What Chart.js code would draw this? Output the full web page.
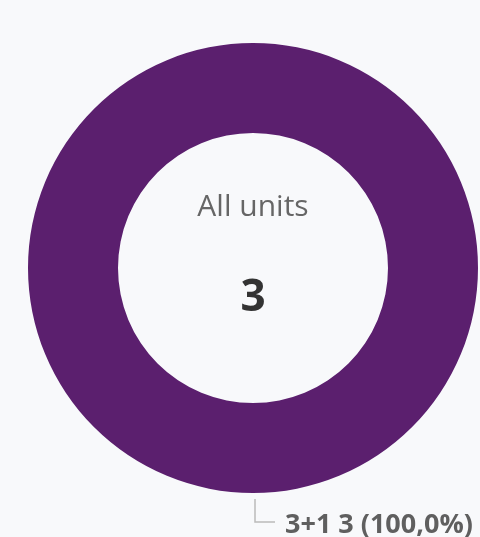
<!DOCTYPE html>
<html>
<head>
<meta charset="utf-8">
<script src="https://cdn.jsdelivr.net/npm/chart.js@4/dist/chart.umd.min.js"></script>
<style>
  html, body { margin: 0; padding: 0; background: #f8f9fb; }
  #wrap { width: 480px; height: 537px; position: relative; }
</style>
</head>
<body>
<div id="wrap"><canvas id="ch_units"></canvas></div>
<script>
// data
const categories = ['3+1'];
const values = [3];
const colors = ['#5b1f6e'];
const centerTitle = 'All units';

const total = values.reduce((a, b) => a + b, 0);

// center text + outside label with leader line
const donutText = {
  id: 'donutText',
  afterDraw(chart) {
    const ctx = chart.ctx;
    const arc = chart.getDatasetMeta(0).data[0];
    const cx = arc.x, cy = arc.y;
    ctx.save();
    ctx.textAlign = 'center';
    ctx.textBaseline = 'alphabetic';
    ctx.fillStyle = '#666';
    ctx.font = '500 30px "Open Sans", sans-serif';
    ctx.fillText(centerTitle, cx, 216);
    ctx.fillStyle = '#333';
    ctx.font = 'bold 44px "Open Sans", sans-serif';
    ctx.fillText(String(total), cx, 311);

    // label for the (single) slice, placed below the ring
    const bottom = cy + arc.outerRadius;
    ctx.strokeStyle = '#bbb';
    ctx.lineWidth = 1.5;
    ctx.beginPath();
    ctx.moveTo(cx + 2, bottom + 6);
    ctx.lineTo(cx + 2, bottom + 29);
    ctx.lineTo(cx + 22, bottom + 29);
    ctx.stroke();

    const pct = (values[0] / total * 100).toFixed(1).replace('.', ',');
    ctx.textAlign = 'left';
    ctx.fillStyle = '#5f5f5f';
    ctx.font = 'bold 27px "Open Sans", sans-serif';
    ctx.fillText(`${categories[0]} ${values[0]} (${pct}%)`, cx + 32, bottom + 40);
    ctx.restore();
  }
};

new Chart(document.getElementById('ch_units').getContext('2d'), {
  type: 'doughnut',
  data: {
    labels: categories,
    datasets: [{
      data: values,
      backgroundColor: colors,
      borderWidth: 0
    }]
  },
  options: {
    responsive: true,
    maintainAspectRatio: false,
    animation: false,
    cutout: '60%',
    layout: { padding: { left: 28, right: 2, top: 43, bottom: 44 } },
    plugins: {
      legend: { display: false },
      tooltip: { enabled: false }
    }
  },
  plugins: [donutText]
});
</script>
</body>
</html>
